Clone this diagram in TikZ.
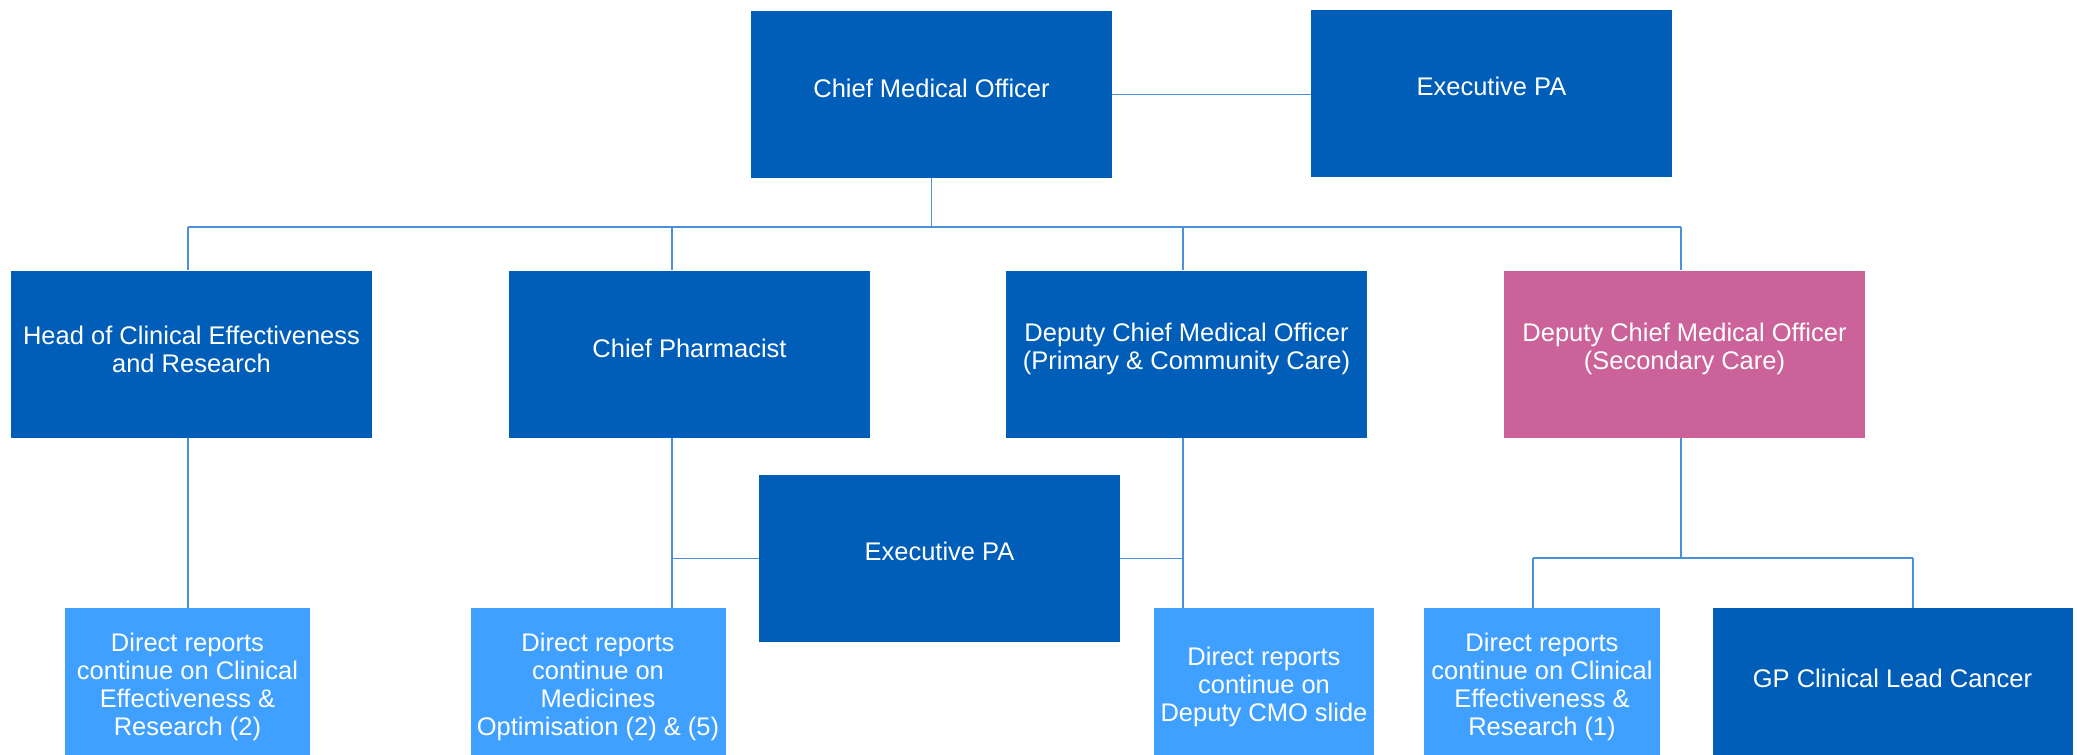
\documentclass[tikz,border=0pt]{standalone}
\usepackage{fontspec}
\setmainfont{Liberation Sans}
\definecolor{nhsblue}{HTML}{005EB8}
\definecolor{lightb}{HTML}{3FA0FF}
\definecolor{pinkc}{HTML}{CB629A}
\definecolor{linec}{HTML}{4A90DA}
\begin{document}
\begin{tikzpicture}[x=1pt,y=-1pt,
  box/.style={rectangle, inner sep=0pt, minimum width=361pt, minimum height=167pt, fill=nhsblue, draw=none},
  lbox/.style={rectangle, inner sep=0pt, minimum height=152pt, fill=lightb, draw=none},
  txt/.style={text=white, align=center, font=\fontsize{25.5}{28}\selectfont, inner sep=0pt},
  conn/.style={draw=linec, line width=1.3pt}]
\useasboundingbox (0,0) rectangle (2078,755);
\clip (0,0) rectangle (2078,755);
% top level
\node[box] (cmo) at (931.5,94.5) {};
\node[txt] (cmo-t) at ([yshift=6.5pt]cmo.center) {Chief Medical Officer};
\node[box] (epa1) at (1491.5,93) {};
\node[txt] (epa1-t) at ([yshift=6.5pt]epa1.center) {Executive PA};
% second level
\node[box] (hce) at (191.5,354) {};
\node[txt] (hce-t) at ([yshift=5pt]hce.center) {Head of Clinical Effectiveness\\and Research};
\node[box] (cp) at (689.5,354) {};
\node[txt] (cp-t) at ([yshift=6pt]cp.center) {Chief Pharmacist};
\node[box] (dp) at (1186.5,354) {};
\node[txt] (dp-t) at ([yshift=5pt]dp.center) {Deputy Chief Medical Officer\\(Primary \& Community Care)};
\node[box, fill=pinkc] (ds) at (1684.5,354) {};
\node[txt] (ds-t) at ([yshift=5pt]ds.center) {Deputy Chief Medical Officer\\(Secondary Care)};
% middle PA
\node[box] (epa2) at (939.5,558.5) {};
\node[txt] (epa2-t) at ([yshift=7pt]epa2.center) {Executive PA};
% bottom level
\node[lbox, minimum width=245pt] (dr1) at (187.5,684) {};
\node[txt] (dr1-t) at ([yshift=-2.5pt]dr1.center) {Direct reports\\continue on Clinical\\Effectiveness \&\\Research (2)};
\node[lbox, minimum width=255pt] (dr2) at (598,684) {};
\node[txt] (dr2-t) at ([yshift=-2.5pt]dr2.center) {Direct reports\\continue on\\Medicines\\Optimisation (2) \& (5)};
\node[lbox, minimum width=220pt] (dr3) at (1264,684) {};
\node[txt] (dr3-t) at ([yshift=-2.5pt]dr3.center) {Direct reports\\continue on\\Deputy CMO slide};
\node[lbox, minimum width=236pt] (dr4) at (1542,684) {};
\node[txt] (dr4-t) at ([yshift=-2.5pt]dr4.center) {Direct reports\\continue on Clinical\\Effectiveness \&\\Research (1)};
\node[box, minimum width=360pt, minimum height=152pt] (gp) at (1892.5,684) {};
\node[txt] (gp-t) at ([yshift=6pt]gp.center) {GP Clinical Lead Cancer};
% junction coordinates
\coordinate (jc) at (931.5,227);
\coordinate (j1) at (188,227);
\coordinate (j2) at (672,227);
\coordinate (j3) at (1183,227);
\coordinate (j4) at (1681,227);
\coordinate (k4) at (1681,558);
\coordinate (k4a) at (1533,558);
\coordinate (k4b) at (1913,558);
% connectors
\draw[conn] (cmo.east) -- (cmo.east -| epa1.west);
\draw[conn] (cmo.south) -- (jc);
\draw[conn] (j1) -- (j4);
\draw[conn] (j1) -- (j1 |- hce.north);
\draw[conn] (j2) -- (j2 |- cp.north);
\draw[conn] (j3) -- (j3 |- dp.north);
\draw[conn] (j4) -- (j4 |- ds.north);
\draw[conn] (j1 |- hce.south) -- (j1 |- dr1.north);
\draw[conn] (j2 |- cp.south) -- (j2 |- dr2.north);
\draw[conn] (j2 |- epa2.west) -- (epa2.west);
\draw[conn] (epa2.east) -- (j3 |- epa2.east);
\draw[conn] (j3 |- dp.south) -- (j3 |- dr3.north);
\draw[conn] (j4 |- ds.south) -- (k4);
\draw[conn] (k4a) -- (k4b);
\draw[conn] (k4a) -- (k4a |- dr4.north);
\draw[conn] (k4b) -- (k4b |- gp.north);
\end{tikzpicture}
\end{document}
